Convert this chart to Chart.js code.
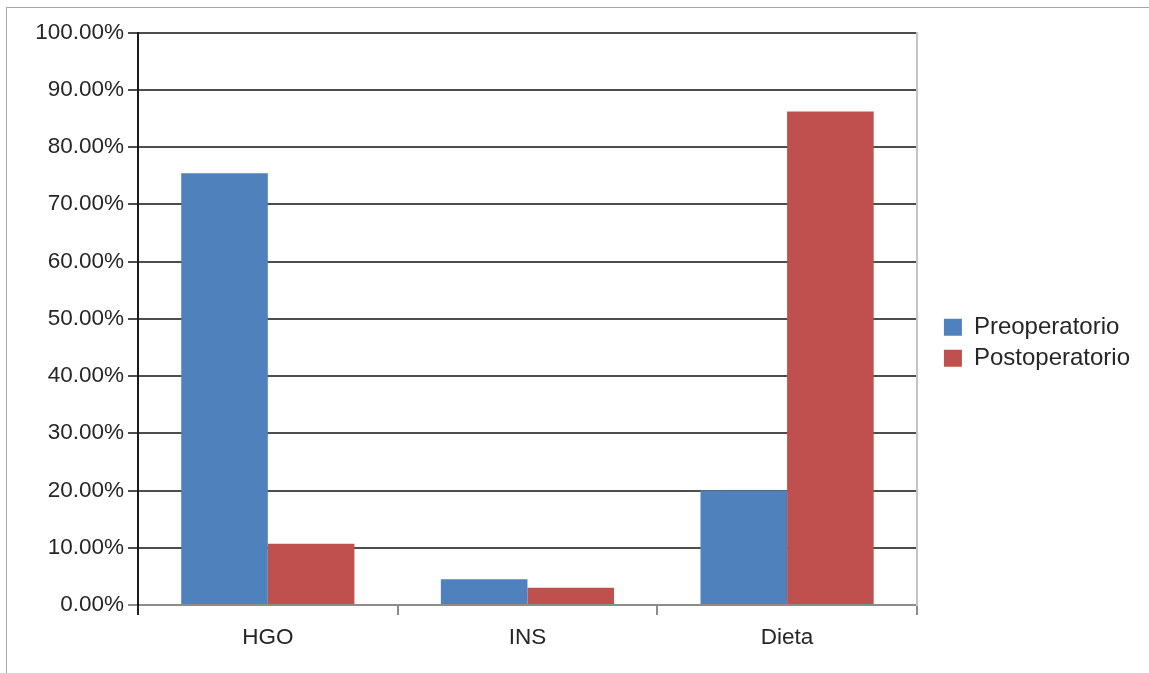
<!DOCTYPE html>
<html>
<head>
<meta charset="utf-8">
<script src="https://cdn.jsdelivr.net/npm/chart.js@4/dist/chart.umd.min.js"></script>
<style>
  html, body { margin: 0; padding: 0; background: #ffffff; }
  #wrap { position: relative; width: 1149px; height: 673px; overflow: hidden; }
  #frame { position: absolute; left: 6px; top: 7px; width: 1200px; height: 700px;
           border-left: 1px solid #a6a6a6; border-top: 1px solid #a6a6a6; }
  #c { position: absolute; left: 0; top: 0; }
</style>
</head>
<body>
<div id="wrap">
  <div id="frame"></div>
  <canvas id="c" width="1149" height="673"></canvas>
</div>
<script>
// Treatment categories and percentage of patients per period
const categories = ['HGO', 'INS', 'Dieta'];
const preoperatorio = [75.4, 4.5, 20.0];
const postoperatorio = [10.7, 3.0, 86.2];
const yTickLabels = ['0.00%', '10.00%', '20.00%', '30.00%', '40.00%', '50.00%',
                     '60.00%', '70.00%', '80.00%', '90.00%', '100.00%'];

const FAMILY = '"Liberation Sans", Arial, sans-serif';
const FONT = { family: FAMILY, size: 22.5 };
const LEGEND_FONT = { family: FAMILY, size: 24 };
const TEXT = '#262626';

new Chart(document.getElementById('c'), {
  type: 'bar',
  data: {
    labels: categories,
    datasets: [
      { label: 'Preoperatorio', data: preoperatorio, backgroundColor: '#4F81BD',
        borderWidth: 0, barPercentage: 1, categoryPercentage: 0.667 },
      { label: 'Postoperatorio', data: postoperatorio, backgroundColor: '#C0504D',
        borderWidth: 0, barPercentage: 1, categoryPercentage: 0.667 }
    ]
  },
  options: {
    responsive: false,
    animation: false,
    events: [],
    layout: { padding: { left: 20, top: 32.5, right: 9, bottom: 20 } },
    plugins: {
      tooltip: { enabled: false },
      legend: {
        position: 'right',
        align: 'center',
        maxWidth: 260,
        labels: { font: LEGEND_FONT, color: TEXT, boxWidth: 18, boxHeight: 17, padding: 7 }
      }
    },
    scales: {
      x: {
        offset: true,
        grid: {
          offset: true,
          drawOnChartArea: false,
          drawTicks: true,
          tickLength: 10,
          lineWidth: 2,
          color: (ctx) => ctx.index === 0 ? '#222222' : '#8c8c8c'
        },
        border: { display: true, color: '#8c8c8c', width: 2 },
        ticks: { font: FONT, color: TEXT, padding: 9 },
        afterFit: (s) => { s.height = 48; }
      },
      y: {
        min: 0, max: 100,
        ticks: {
          stepSize: 10, font: FONT, color: TEXT, padding: 4,
          callback: (v) => yTickLabels[Math.round(v / 10)]
        },
        grid: {
          tickLength: 10,
          lineWidth: 2,
          color: (ctx) => (ctx.tick && ctx.tick.value === 0) ? '#8c8c8c' : '#4d4d4d'
        },
        border: { display: true, color: '#1a1a1a', width: 2 },
        afterFit: (s) => { s.width = 118; }
      },
      yRight: {
        position: 'right',
        min: 0, max: 100,
        ticks: { display: false },
        grid: { display: false, drawOnChartArea: false, drawTicks: false },
        border: { display: true, color: '#c4c4c4', width: 2 },
        afterFit: (s) => { s.width = 20; }
      }
    }
  }
});
</script>
</body>
</html>
